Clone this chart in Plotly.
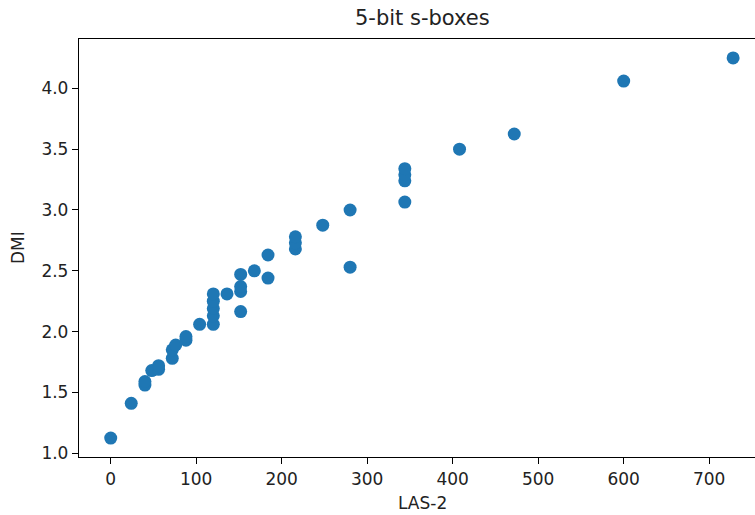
import plotly.graph_objects as go

# LAS-2 (x) and DMI (y) values
las2 = [0, 24, 40, 40, 48, 56, 56, 72, 72, 76, 88, 88, 104,
        120, 120, 120, 120, 120, 136, 152, 152, 152, 152, 168,
        184, 184, 216, 216, 216, 248, 280, 280, 344, 344, 344, 344,
        408, 472, 600, 728]
dmi = [1.125, 1.41, 1.56, 1.59, 1.68, 1.69, 1.72, 1.78, 1.85, 1.89, 1.93, 1.96, 2.06,
       2.06, 2.13, 2.19, 2.25, 2.31, 2.31, 2.165, 2.33, 2.37, 2.47, 2.50,
       2.44, 2.63, 2.68, 2.73, 2.78, 2.875, 2.53, 3.0, 3.065, 3.24, 3.29, 3.34,
       3.50, 3.625, 4.06, 4.25]

x_ticks = [0, 100, 200, 300, 400, 500, 600, 700]
y_ticks = [1.0, 1.5, 2.0, 2.5, 3.0, 3.5, 4.0]

title_text = "5-bit s-boxes"
x_label = "LAS-2"
y_label = "DMI"

FONT = "DejaVu Sans"
W, H = 755, 515
L, T, B = 79, 39, 58

fig = go.Figure(go.Scatter(
    x=las2, y=dmi, mode="markers",
    marker=dict(color="#1f77b4", size=13, line=dict(width=0)),
    hoverinfo="x+y",
))

axis_common = dict(
    showgrid=False, zeroline=False, showline=True, linecolor="black", linewidth=1.3,
    ticks="outside", ticklen=6, tickwidth=1.3, tickcolor="black",
    tickfont=dict(family=FONT, size=17, color="#222"),
)

fig.update_layout(
    width=W, height=H,
    margin=dict(l=L, r=0, t=T, b=B, pad=0),
    paper_bgcolor="white", plot_bgcolor="white",
    showlegend=False,
    xaxis=dict(range=[-37.1, 753.6], tickvals=x_ticks, ticktext=[str(v) for v in x_ticks],
               mirror=True, **axis_common),
    yaxis=dict(range=[0.969, 4.406], tickvals=y_ticks, ticktext=[f"{v:.1f}" for v in y_ticks],
               mirror=False, **axis_common),
    annotations=[
        dict(text=title_text, xref="paper", yref="paper",
             x=(422 - L) / (W - L), y=1 + (T - 18) / (H - T - B),
             xanchor="center", yanchor="middle", showarrow=False,
             font=dict(family=FONT, size=21, color="#222")),
        dict(text=x_label, xref="paper", yref="paper",
             x=(422 - L) / (W - L), y=-(503 - (H - B)) / (H - T - B),
             xanchor="center", yanchor="middle", showarrow=False,
             font=dict(family=FONT, size=17, color="#222")),
        dict(text=y_label, xref="paper", yref="paper",
             x=-(L - 18) / (W - L), y=0.5, textangle=-90,
             xanchor="center", yanchor="middle", showarrow=False,
             font=dict(family=FONT, size=17, color="#222")),
    ],
)

fig.write_html("out.html", config={"displayModeBar": False},
               post_script="document.body.style.margin='0';document.body.style.overflow='hidden';")
